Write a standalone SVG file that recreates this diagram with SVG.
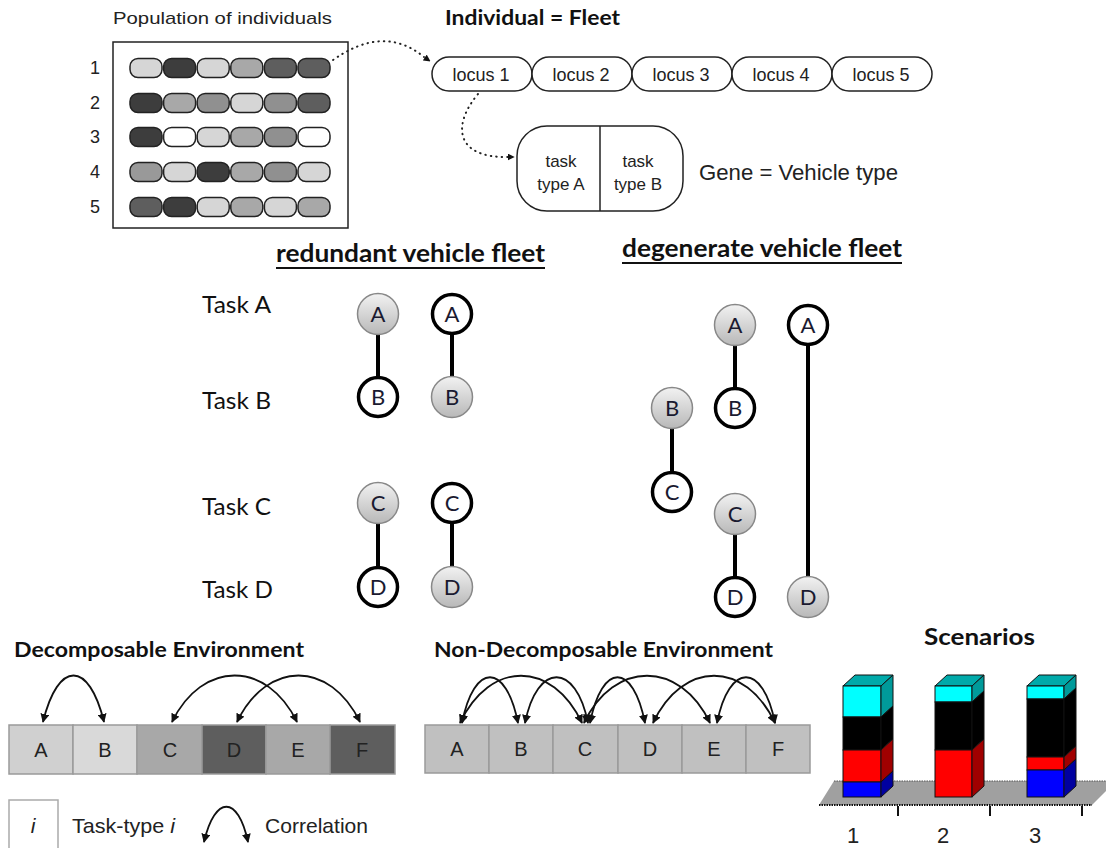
<svg xmlns="http://www.w3.org/2000/svg" width="1106" height="848" viewBox="0 0 1106 848">
<defs>
<linearGradient id="gg" x1="0" y1="0" x2="0" y2="1">
<stop offset="0" stop-color="#f2f2f2"/><stop offset="1" stop-color="#b8b8b8"/>
</linearGradient>
<marker id="ah" viewBox="0 0 10 10" refX="9" refY="5" markerWidth="7" markerHeight="7" markerUnits="userSpaceOnUse" orient="auto-start-reverse">
<path d="M0,0 L10,5 L0,10 z" fill="#111"/>
</marker>
<marker id="ah2" viewBox="0 0 10 10" refX="9" refY="5" markerWidth="9" markerHeight="9" markerUnits="userSpaceOnUse" orient="auto-start-reverse">
<path d="M0,0 L10,5 L0,10 z" fill="#111"/>
</marker>
</defs>
<style>
.hv{font-family:"Liberation Sans",Arial,sans-serif;fill:#222}
.cb{font-family:Lato,"Open Sans",sans-serif;fill:#111}
.b{font-weight:bold}
.pill{stroke:#222;stroke-width:1.5}
.dot{fill:none;stroke:#222;stroke-width:2;stroke-dasharray:0.5 5;stroke-linecap:round}
.gn{fill:url(#gg);stroke:#888;stroke-width:1.5}
.wn{fill:#fff;stroke:#000;stroke-width:3.5}
.nl{font-family:Lato,"Open Sans",sans-serif;font-size:22px;fill:#1a1a30;text-anchor:middle}
.edge{stroke:#000;stroke-width:4}
.arc{fill:none;stroke:#111;stroke-width:1.8}
.cell{stroke:#9a9a9a;stroke-width:1.5}
.ul{stroke:#111;stroke-width:2}
</style>
<rect width="1106" height="848" fill="#fff"/>

<g id="population">
<text class="hv" x="113" y="24" font-size="17" textLength="219" lengthAdjust="spacingAndGlyphs">Population of individuals</text>
<rect x="113" y="42" width="235" height="186" fill="#fff" stroke="#222" stroke-width="1.5"/>
<g class="hv" font-size="18" text-anchor="middle">
<text x="95" y="74">1</text><text x="95" y="109">2</text><text x="95" y="143">3</text><text x="95" y="178">4</text><text x="95" y="213">5</text>
</g>
<g class="pill">
<rect x="130" y="58.5" width="32" height="19" rx="8" fill="#d6d6d6"/>
<rect x="163.6" y="58.5" width="32" height="19" rx="8" fill="#3d3d3d"/>
<rect x="197.2" y="58.5" width="32" height="19" rx="8" fill="#d6d6d6"/>
<rect x="230.8" y="58.5" width="32" height="19" rx="8" fill="#a8a8a8"/>
<rect x="264.4" y="58.5" width="32" height="19" rx="8" fill="#5e5e5e"/>
<rect x="298" y="58.5" width="32" height="19" rx="8" fill="#5e5e5e"/>

<rect x="130" y="93.5" width="32" height="19" rx="8" fill="#3d3d3d"/>
<rect x="163.6" y="93.5" width="32" height="19" rx="8" fill="#a8a8a8"/>
<rect x="197.2" y="93.5" width="32" height="19" rx="8" fill="#909090"/>
<rect x="230.8" y="93.5" width="32" height="19" rx="8" fill="#d6d6d6"/>
<rect x="264.4" y="93.5" width="32" height="19" rx="8" fill="#909090"/>
<rect x="298" y="93.5" width="32" height="19" rx="8" fill="#5e5e5e"/>

<rect x="130" y="127.5" width="32" height="19" rx="8" fill="#3d3d3d"/>
<rect x="163.6" y="127.5" width="32" height="19" rx="8" fill="#ffffff"/>
<rect x="197.2" y="127.5" width="32" height="19" rx="8" fill="#d6d6d6"/>
<rect x="230.8" y="127.5" width="32" height="19" rx="8" fill="#a8a8a8"/>
<rect x="264.4" y="127.5" width="32" height="19" rx="8" fill="#909090"/>
<rect x="298" y="127.5" width="32" height="19" rx="8" fill="#ffffff"/>

<rect x="130" y="162.5" width="32" height="19" rx="8" fill="#999999"/>
<rect x="163.6" y="162.5" width="32" height="19" rx="8" fill="#d6d6d6"/>
<rect x="197.2" y="162.5" width="32" height="19" rx="8" fill="#3d3d3d"/>
<rect x="230.8" y="162.5" width="32" height="19" rx="8" fill="#a8a8a8"/>
<rect x="264.4" y="162.5" width="32" height="19" rx="8" fill="#909090"/>
<rect x="298" y="162.5" width="32" height="19" rx="8" fill="#d6d6d6"/>

<rect x="130" y="197.5" width="32" height="19" rx="8" fill="#5e5e5e"/>
<rect x="163.6" y="197.5" width="32" height="19" rx="8" fill="#3d3d3d"/>
<rect x="197.2" y="197.5" width="32" height="19" rx="8" fill="#d6d6d6"/>
<rect x="230.8" y="197.5" width="32" height="19" rx="8" fill="#a8a8a8"/>
<rect x="264.4" y="197.5" width="32" height="19" rx="8" fill="#d6d6d6"/>
<rect x="298" y="197.5" width="32" height="19" rx="8" fill="#a8a8a8"/>
</g>
</g>

<g id="individual">
<text class="cb b" x="445" y="25" font-size="21" textLength="175" lengthAdjust="spacingAndGlyphs">Individual = Fleet</text>
<g fill="#fff" stroke="#222" stroke-width="1.5">
<rect x="432" y="57" width="100" height="34" rx="17"/>
<rect x="532" y="57" width="100" height="34" rx="17"/>
<rect x="632" y="57" width="100" height="34" rx="17"/>
<rect x="732" y="57" width="100" height="34" rx="17"/>
<rect x="832" y="57" width="100" height="34" rx="17"/>
</g>
<g class="hv" font-size="18" text-anchor="middle" fill="#333">
<text x="481" y="81">locus 1</text><text x="581" y="81">locus 2</text><text x="681" y="81">locus 3</text><text x="781" y="81">locus 4</text><text x="881" y="81">locus 5</text>
</g>
</g>

<g id="gene">
<rect x="517" y="126" width="166" height="85" rx="30" fill="#fff" stroke="#222" stroke-width="1.5"/>
<line x1="600" y1="126" x2="600" y2="211" stroke="#222" stroke-width="1.5"/>
<g class="hv" font-size="17" text-anchor="middle" fill="#333">
<text x="561" y="167">task</text><text x="561" y="190">type A</text>
<text x="638" y="167">task</text><text x="638" y="190">type B</text>
</g>
<text class="hv" x="699" y="180" font-size="22" fill="#333" textLength="199" lengthAdjust="spacingAndGlyphs">Gene = Vehicle type</text>
</g>

<g id="population-links">
<path class="dot" d="M333,60 Q384,24 424,57"/>
<path d="M424,57 l6,4" stroke="none" fill="none" marker-end="url(#ah)"/>
<path class="dot" d="M478,94 C452,125 455,158 508,157"/>
<path d="M508,157 l6,0" stroke="none" fill="none" marker-end="url(#ah)"/>
</g>

<g id="headers">
<text class="cb b" x="276" y="262" font-size="24" textLength="269" lengthAdjust="spacingAndGlyphs">redundant vehicle fleet</text>
<line class="ul" x1="276" y1="268" x2="545" y2="268"/>
<text class="cb b" x="622" y="257" font-size="24" textLength="280" lengthAdjust="spacingAndGlyphs">degenerate vehicle fleet</text>
<line class="ul" x1="622" y1="263" x2="902" y2="263"/>
</g>

<g id="task-labels" class="cb" font-size="24">
<text x="202" y="313" textLength="69" lengthAdjust="spacingAndGlyphs">Task A</text>
<text x="202" y="409" textLength="69" lengthAdjust="spacingAndGlyphs">Task B</text>
<text x="202" y="515" textLength="69" lengthAdjust="spacingAndGlyphs">Task C</text>
<text x="202" y="598" textLength="71" lengthAdjust="spacingAndGlyphs">Task D</text>
</g>

<g id="fleet-edges">
<line class="edge" x1="378" y1="334" x2="378" y2="377"/>
<line class="edge" x1="452" y1="334" x2="452" y2="377"/>
<line class="edge" x1="378" y1="523" x2="378" y2="567"/>
<line class="edge" x1="452" y1="523" x2="452" y2="567"/>
<line class="edge" x1="672" y1="428" x2="672" y2="472"/>
<line class="edge" x1="735" y1="345" x2="735" y2="388"/>
<line class="edge" x1="735" y1="534" x2="735" y2="577"/>
<line class="edge" x1="808" y1="345" x2="808" y2="577"/>
</g>

<g id="r-A1"><circle class="gn" cx="378" cy="314" r="20.5"/><text class="nl" x="378" y="322">A</text></g>
<g id="r-B1"><circle class="wn" cx="378" cy="397" r="19.5"/><text class="nl" x="378" y="405">B</text></g>
<g id="r-A2"><circle class="wn" cx="452" cy="314" r="19.5"/><text class="nl" x="452" y="322">A</text></g>
<g id="r-B2"><circle class="gn" cx="452" cy="397" r="20.5"/><text class="nl" x="452" y="405">B</text></g>
<g id="r-C1"><circle class="gn" cx="378" cy="503" r="20.5"/><text class="nl" x="378" y="511">C</text></g>
<g id="r-D1"><circle class="wn" cx="378" cy="587" r="19.5"/><text class="nl" x="378" y="595">D</text></g>
<g id="r-C2"><circle class="wn" cx="452" cy="503" r="19.5"/><text class="nl" x="452" y="511">C</text></g>
<g id="r-D2"><circle class="gn" cx="452" cy="587" r="20.5"/><text class="nl" x="452" y="595">D</text></g>

<g id="d-B1"><circle class="gn" cx="672" cy="408" r="20.5"/><text class="nl" x="672" y="416">B</text></g>
<g id="d-C1"><circle class="wn" cx="672" cy="492" r="19.5"/><text class="nl" x="672" y="500">C</text></g>
<g id="d-A2"><circle class="gn" cx="735" cy="325" r="20.5"/><text class="nl" x="735" y="333">A</text></g>
<g id="d-B2"><circle class="wn" cx="735" cy="408" r="19.5"/><text class="nl" x="735" y="416">B</text></g>
<g id="d-C2"><circle class="gn" cx="735" cy="514" r="20.5"/><text class="nl" x="735" y="522">C</text></g>
<g id="d-D2"><circle class="wn" cx="735" cy="597" r="19.5"/><text class="nl" x="735" y="605">D</text></g>
<g id="d-A3"><circle class="wn" cx="808" cy="325" r="19.5"/><text class="nl" x="808" y="333">A</text></g>
<g id="d-D3"><circle class="gn" cx="808" cy="597" r="20.5"/><text class="nl" x="808" y="605">D</text></g>

<g id="decomposable">
<text class="cb b" x="14" y="657" font-size="21" textLength="290" lengthAdjust="spacingAndGlyphs">Decomposable Environment</text>
<rect class="cell" x="9" y="725" width="64" height="49" fill="#d0d0d0"/>
<rect class="cell" x="73" y="725" width="64" height="49" fill="#d9d9d9"/>
<rect class="cell" x="137" y="725" width="65" height="49" fill="#a8a8a8"/>
<rect class="cell" x="202" y="725" width="64" height="49" fill="#5e5e5e"/>
<rect class="cell" x="266" y="725" width="64" height="49" fill="#a8a8a8"/>
<rect class="cell" x="330" y="725" width="65" height="49" fill="#5e5e5e"/>
<g class="hv" font-size="20" text-anchor="middle">
<text x="41" y="757">A</text><text x="105" y="757">B</text><text x="170" y="757">C</text><text x="234" y="757">D</text><text x="298" y="757">E</text><text x="362" y="757">F</text>
</g>
<path class="arc" d="M43,722 C58,660 89,660 104,722" marker-start="url(#ah2)" marker-end="url(#ah2)"/>
<path class="arc" d="M172,722 C202,660 267,660 297,722" marker-start="url(#ah2)" marker-end="url(#ah2)"/>
<path class="arc" d="M237,722 C267,660 330,660 360,722" marker-start="url(#ah2)" marker-end="url(#ah2)"/>
</g>

<g id="legend">
<rect x="9" y="800" width="49" height="60" fill="#fff" stroke="#aaa" stroke-width="1.5"/>
<text class="hv" x="33" y="833" font-size="21" font-style="italic" text-anchor="middle">i</text>
<text class="hv" x="72" y="833" font-size="21" textLength="103" lengthAdjust="spacingAndGlyphs">Task-type <tspan font-style="italic">i</tspan></text>
<path class="arc" d="M204,842 C215,795 238,795 248,842" marker-start="url(#ah2)" marker-end="url(#ah2)"/>
<text class="hv" x="265" y="833" font-size="21" textLength="103" lengthAdjust="spacingAndGlyphs">Correlation</text>
</g>

<g id="non-decomposable">
<text class="cb b" x="434" y="657" font-size="21" textLength="339" lengthAdjust="spacingAndGlyphs">Non-Decomposable Environment</text>
<g fill="#c0c0c0">
<rect class="cell" x="425" y="725" width="64" height="48"/>
<rect class="cell" x="489" y="725" width="64" height="48"/>
<rect class="cell" x="553" y="725" width="65" height="48"/>
<rect class="cell" x="618" y="725" width="64" height="48"/>
<rect class="cell" x="682" y="725" width="64" height="48"/>
<rect class="cell" x="746" y="725" width="64" height="48"/>
</g>
<g class="hv" font-size="20" text-anchor="middle">
<text x="457" y="756">A</text><text x="521" y="756">B</text><text x="585" y="756">C</text><text x="650" y="756">D</text><text x="714" y="756">E</text><text x="778" y="756">F</text>
</g>
<path class="arc" d="M462,723 C474,662 506,662 518,723" marker-start="url(#ah2)" marker-end="url(#ah2)"/>
<path class="arc" d="M460,723 C490,660 552,660 582,723" marker-start="url(#ah2)" marker-end="url(#ah2)"/>
<path class="arc" d="M525,723 C537,662 576,662 588,723" marker-start="url(#ah2)" marker-end="url(#ah2)"/>
<path class="arc" d="M590,723 C602,662 633,662 645,723" marker-start="url(#ah2)" marker-end="url(#ah2)"/>
<path class="arc" d="M584,723 C614,660 680,660 710,723" marker-start="url(#ah2)" marker-end="url(#ah2)"/>
<path class="arc" d="M653,723 C683,660 745,660 775,723" marker-start="url(#ah2)" marker-end="url(#ah2)"/>
<path class="arc" d="M717,723 C729,662 763,662 775,723" marker-start="url(#ah2)" marker-end="url(#ah2)"/>
</g>

<g id="scenarios">
<text class="cb b" x="924" y="645" font-size="22" textLength="111" lengthAdjust="spacingAndGlyphs" fill="#1a1a30">Scenarios</text>
<polygon points="819,805 1092,805 1106,791 1106,781 834,781" fill="#a0a0a0"/>
<line x1="819" y1="805" x2="1092" y2="805" stroke="#111" stroke-width="2" stroke-dasharray="1.5 1"/>
<line x1="834" y1="781" x2="1106" y2="781" stroke="#555" stroke-width="1" stroke-dasharray="1.5 1"/>
<g stroke="#111" stroke-width="2">
<line x1="898" y1="806" x2="898" y2="816"/><line x1="990" y1="806" x2="990" y2="816"/><line x1="1082" y1="806" x2="1082" y2="816"/>
</g>
<g stroke="#111" stroke-width="1">
<polygon points="843,686 855,675 893,675 881,686" fill="#00aaaa"/>
<rect x="843" y="686" width="38" height="31" fill="#00ffff"/>
<polygon points="881,686 893,675 893,706 881,717" fill="#009a9a"/>
<rect x="843" y="717" width="38" height="33" fill="#000"/>
<polygon points="881,717 893,706 893,739 881,750" fill="#000"/>
<rect x="843" y="750" width="38" height="32" fill="#ff0000"/>
<polygon points="881,750 893,739 893,771 881,782" fill="#a00000"/>
<rect x="843" y="782" width="38" height="15" fill="#0000ff"/>
<polygon points="881,782 893,771 893,786 881,797" fill="#0000a0"/>

<polygon points="935,686 947,675 984,675 972,686" fill="#00aaaa"/>
<rect x="935" y="686" width="37" height="16" fill="#00ffff"/>
<polygon points="972,686 984,675 984,691 972,702" fill="#009a9a"/>
<rect x="935" y="702" width="37" height="48" fill="#000"/>
<polygon points="972,702 984,691 984,739 972,750" fill="#000"/>
<rect x="935" y="750" width="37" height="47" fill="#ff0000"/>
<polygon points="972,750 984,739 984,786 972,797" fill="#a00000"/>

<polygon points="1027,686 1039,675 1076,675 1064,686" fill="#00aaaa"/>
<rect x="1027" y="686" width="37" height="13" fill="#00ffff"/>
<polygon points="1064,686 1076,675 1076,688 1064,699" fill="#009a9a"/>
<rect x="1027" y="699" width="37" height="58" fill="#000"/>
<polygon points="1064,699 1076,688 1076,746 1064,757" fill="#000"/>
<rect x="1027" y="757" width="37" height="13" fill="#ff0000"/>
<polygon points="1064,757 1076,746 1076,759 1064,770" fill="#a00000"/>
<rect x="1027" y="770" width="37" height="27" fill="#0000ff"/>
<polygon points="1064,770 1076,759 1076,786 1064,797" fill="#0000a0"/>
</g>
<g class="hv" font-size="22" text-anchor="middle" fill="#1a1a3a">
<text x="853" y="843">1</text><text x="943" y="843">2</text><text x="1035" y="843">3</text>
</g>
</g>
</svg>
